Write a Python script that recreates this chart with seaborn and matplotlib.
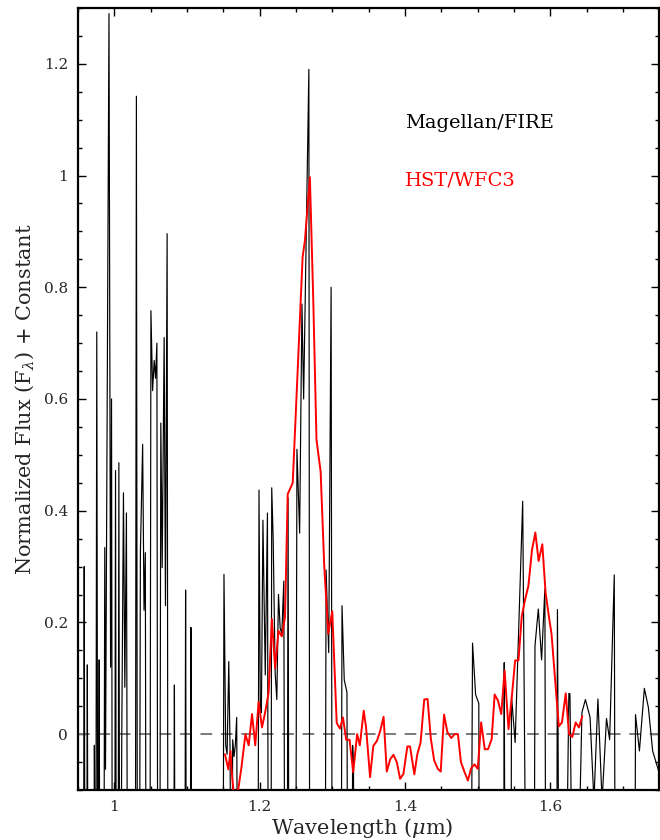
import numpy as np
import pandas as pd
import matplotlib
matplotlib.use("Agg")
import matplotlib.pyplot as plt
from matplotlib.ticker import MultipleLocator, FuncFormatter, FixedLocator
import seaborn as sns

# Magellan/FIRE spectrum (points far below the plotted range use -0.5)
fire_wave = [
    0.9500, 0.9575, 0.9587, 0.9600, 0.9618, 0.9630, 0.9642, 0.9715, 0.9727, 0.9745,
    0.9760, 0.9775, 0.9793, 0.9805, 0.9855, 0.9870, 0.9880, 0.9928, 0.9950, 0.9963,
    0.9975, 1.0005, 1.0018, 1.0030, 1.0052, 1.0064, 1.0076, 1.0085, 1.0105, 1.0127,
    1.0146, 1.0168, 1.0185, 1.0290, 1.0305, 1.0320, 1.0345, 1.0360, 1.0391, 1.0410,
    1.0428, 1.0440, 1.0490, 1.0505, 1.0528, 1.0550, 1.0568, 1.0587, 1.0600, 1.0625,
    1.0641, 1.0660, 1.0687, 1.0705, 1.0728, 1.0740, 1.0815, 1.0828, 1.0840, 1.0970,
    1.0982, 1.0995, 1.1043, 1.1055, 1.1068, 1.1495, 1.1510, 1.1534, 1.1553, 1.1576,
    1.1594, 1.1612, 1.1630, 1.1648, 1.1666, 1.1685, 1.1703, 1.1975, 1.1992, 1.2010,
    1.2025, 1.2046, 1.2078, 1.2108, 1.2122, 1.2155, 1.2167, 1.2187, 1.2214, 1.2237,
    1.2260, 1.2283, 1.2306, 1.2333, 1.2350, 1.2378, 1.2392, 1.2405, 1.2495, 1.2514,
    1.2551, 1.2583, 1.2606, 1.2678, 1.2690, 1.2900, 1.2915, 1.2951, 1.2984, 1.3000,
    1.3120, 1.3134, 1.3165, 1.3202, 1.3215, 1.3270, 1.3280, 1.3292, 1.3302, 1.4905,
    1.4930, 1.4972, 1.5016, 1.5027, 1.5355, 1.5366, 1.5380, 1.5455, 1.5466, 1.5516,
    1.5620, 1.5675, 1.5775, 1.5789, 1.5835, 1.5880, 1.5925, 1.5940, 1.6085, 1.6098,
    1.6125, 1.6200, 1.6255, 1.6270, 1.6320, 1.6345, 1.6435, 1.6483, 1.6547, 1.6600,
    1.6655, 1.6712, 1.6773, 1.6816, 1.6880, 1.6895, 1.7160, 1.7172, 1.7226, 1.7294,
    1.7349, 1.7408, 1.7500,
]
fire_flux = [
    -0.50, -0.50, 0.300, -0.50, -0.50, 0.124, -0.50, -0.50, -0.020, -0.50,
    0.720, -0.50, 0.133, -0.50, -0.50, 0.334, -0.063, 1.290, 0.120, 0.600,
    -0.50, -0.50, 0.472, -0.50, -0.50, 0.486, -0.50, -0.50, 0.020, 0.432,
    0.084, 0.396, -0.50, -0.50, 1.142, -0.50, -0.50, 0.325, 0.519, 0.222,
    0.325, -0.50, -0.50, 0.758, 0.615, 0.669, 0.637, 0.700, -0.50, -0.50,
    0.557, 0.298, 0.710, 0.230, 0.896, -0.50, -0.50, 0.088, -0.50, -0.50,
    0.258, -0.50, -0.50, 0.191, -0.50, -0.50, 0.286, -0.020, -0.036, 0.130,
    -0.030, -0.50, -0.010, -0.040, -0.020, 0.030, -0.50, -0.50, 0.437, 0.050,
    0.039, 0.383, 0.106, 0.396, -0.50, -0.50, 0.441, 0.350, 0.110, 0.062,
    0.250, 0.190, 0.180, 0.274, -0.50, -0.50, 0.423, -0.50, -0.50, 0.510,
    0.360, 0.770, 0.600, 1.190, -0.50, -0.50, 0.294, 0.146, 0.800, -0.50,
    -0.50, 0.230, 0.097, 0.075, -0.50, -0.50, -0.020, -0.060, -0.50, -0.50,
    0.163, 0.071, 0.055, -0.50, -0.50, 0.128, -0.50, -0.50, 0.068, -0.015,
    0.417, -0.50, -0.50, 0.158, 0.224, 0.133, 0.260, -0.50, -0.50, 0.223,
    -0.50, -0.50, 0.073, 0.072, -0.50, -0.50, 0.039, 0.062, 0.030, -0.120,
    0.063, -0.120, 0.028, -0.010, 0.285, -0.50, -0.50, 0.035, -0.030, 0.082,
    0.048, -0.030, -0.070,
]

# HST/WFC3 spectrum
wfc3_wave = [
    1.1524, 1.1570, 1.1600, 1.1612, 1.1660, 1.1705, 1.1750, 1.1805, 1.1850, 1.1896,
    1.1940, 1.1987, 1.2033, 1.2078, 1.2124, 1.2169, 1.2214, 1.2260, 1.2306, 1.2350,
    1.2387, 1.2433, 1.2456, 1.2500, 1.2547, 1.2592, 1.2624, 1.2692, 1.2738, 1.2783,
    1.2840, 1.2890, 1.2945, 1.3000, 1.3061, 1.3106, 1.3147, 1.3192, 1.3238, 1.3288,
    1.3342, 1.3379, 1.3433, 1.3465, 1.3520, 1.3565, 1.3615, 1.3660, 1.3706, 1.3750,
    1.3797, 1.3842, 1.3888, 1.3933, 1.3979, 1.4033, 1.4070, 1.4129, 1.4170, 1.4215,
    1.4265, 1.4311, 1.4356, 1.4402, 1.4452, 1.4492, 1.4538, 1.4583, 1.4638, 1.4683,
    1.4729, 1.4770, 1.4820, 1.4866, 1.4911, 1.4957, 1.5002, 1.5048, 1.5098, 1.5143,
    1.5193, 1.5234, 1.5280, 1.5325, 1.5371, 1.5425, 1.5471, 1.5516, 1.5562, 1.5607,
    1.5653, 1.5698, 1.5748, 1.5794, 1.5839, 1.5890, 1.5935, 1.5980, 1.6017, 1.6062,
    1.6117, 1.6160, 1.6212, 1.6258, 1.6303, 1.6349, 1.6394, 1.6440,
]
wfc3_flux = [
    -0.036, -0.063, -0.030, -0.060, -0.130, -0.100, -0.060, 0.000, -0.020, 0.036,
    -0.020, 0.058, 0.012, 0.040, 0.074, 0.206, 0.118, 0.185, 0.175, 0.210,
    0.430, 0.443, 0.450, 0.580, 0.720, 0.854, 0.884, 0.997, 0.780, 0.527,
    0.470, 0.300, 0.180, 0.220, 0.020, 0.010, 0.030, -0.010, -0.010, -0.068,
    0.000, -0.020, 0.042, 0.012, -0.077, -0.021, -0.012, 0.006, 0.031, -0.067,
    -0.045, -0.037, -0.050, -0.080, -0.071, -0.022, -0.022, -0.072, -0.036, -0.015,
    0.062, 0.063, -0.008, -0.047, -0.062, -0.067, 0.035, 0.004, -0.007, 0.000,
    0.000, -0.050, -0.068, -0.083, -0.061, -0.054, -0.062, 0.021, -0.027, -0.027,
    -0.009, 0.071, 0.060, 0.036, 0.114, 0.009, 0.068, 0.132, 0.132, 0.211,
    0.241, 0.265, 0.330, 0.361, 0.310, 0.340, 0.253, 0.211, 0.179, 0.104,
    0.014, 0.021, 0.073, 0.000, -0.005, 0.021, 0.012, 0.032,
]

x_range = (0.95, 1.75)
y_range = (-0.1, 1.3)
x_major = [1.0, 1.2, 1.4, 1.6]
y_major = [0.0, 0.2, 0.4, 0.6, 0.8, 1.0, 1.2]
labels = ["Magellan/FIRE", "HST/WFC3"]
label_colors = ["black", "#ff0000"]

fire = pd.DataFrame({"wave": fire_wave, "flux": fire_flux})
wfc3 = pd.DataFrame({"wave": wfc3_wave, "flux": wfc3_flux})

sns.set_style("ticks")
plt.rcParams["font.family"] = ["DejaVu Serif"]
plt.rcParams["mathtext.fontset"] = "dejavuserif"

fig = plt.figure(figsize=(6.6, 8.4), dpi=100)
ax = fig.add_axes([0.118, 0.0595, 0.881, 0.931])

# zero-flux reference level
ax.axhline(0.0, color="#7a7a7a", lw=1.4, ls=(0, (6, 4.5)), zorder=1)

sns.lineplot(data=fire, x="wave", y="flux", ax=ax, sort=False, estimator=None,
             color=label_colors[0], lw=0.85, zorder=2)
sns.lineplot(data=wfc3, x="wave", y="flux", ax=ax, sort=False, estimator=None,
             color=label_colors[1], lw=1.4, zorder=3)

ax.set_xlim(*x_range)
ax.set_ylim(*y_range)

ax.xaxis.set_major_locator(FixedLocator(x_major))
ax.yaxis.set_major_locator(FixedLocator(y_major))
ax.xaxis.set_minor_locator(MultipleLocator(0.05))
ax.yaxis.set_minor_locator(MultipleLocator(0.05))

fmt = FuncFormatter(lambda v, p: ("%g" % round(v, 3)))
ax.xaxis.set_major_formatter(fmt)
ax.yaxis.set_major_formatter(fmt)

ax.tick_params(which="both", direction="in", top=True, right=True,
               color="black", width=1.0)
ax.tick_params(which="major", length=5.5, labelsize=11, pad=7)
ax.tick_params(which="minor", length=2.8)
for s in ax.spines.values():
    s.set_linewidth(1.6)
    s.set_color("black")

ax.set_xlabel(r"Wavelength ($\mu$m)", fontsize=15)
ax.xaxis.set_label_coords(0.489, -0.0335, transform=ax.transAxes)
ax.xaxis.label.set_va("top")
ax.set_ylabel(r"Normalized Flux (F$_\lambda$) + Constant", fontsize=15, labelpad=6)

# series labels
ax.text(1.40, 1.085, labels[0], color=label_colors[0], fontsize=14,
        ha="left", va="baseline")
ax.text(1.40, 0.982, labels[1], color=label_colors[1], fontsize=14,
        ha="left", va="baseline")

fig.savefig("out.png", dpi=100)
